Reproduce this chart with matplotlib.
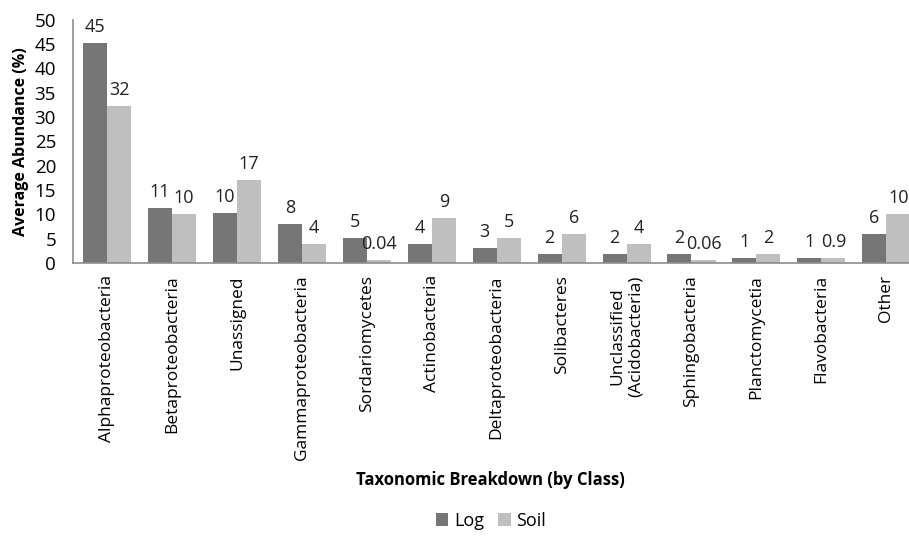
import numpy as np
import matplotlib.pyplot as plt

plt.rcParams['font.family'] = ['Open Sans', 'DejaVu Sans']

categories = ['Alphaproteobacteria', 'Betaproteobacteria', 'Unassigned',
              'Gammaproteobacteria', 'Sordariomycetes', 'Actinobacteria',
              'Deltaproteobacteria', 'Solibacteres', 'Unclassified\n(Acidobacteria)',
              'Sphingobacteria', 'Planctomycetia', 'Flavobacteria', 'Other']
log_vals = [45.3, 11.3, 10.2, 8.0, 5.1, 3.9, 3.1, 1.9, 1.9, 1.9, 1.0, 1.0, 6.0]
soil_vals = [32.2, 10.1, 17.1, 3.9, 0.5, 9.3, 5.1, 6.0, 3.9, 0.5, 1.9, 1.0, 10.1]
log_labels = ['45', '11', '10', '8', '5', '4', '3', '2', '2', '2', '1', '1', '6']
soil_labels = ['32', '10', '17', '4', '0.04', '9', '5', '6', '4', '0.06', '2', '0.9', '10']

fig = plt.figure(figsize=(9.09, 5.51), dpi=100)
ax = fig.add_axes([0.080, 0.523, 0.920, 0.441])

x = np.arange(len(categories))
w = 0.37
b1 = ax.bar(x - w / 2, log_vals, w, color='#767676', label='Log')
b2 = ax.bar(x + w / 2, soil_vals, w, color='#bfbfbf', label='Soil')

for bars, labs in ((b1, log_labels), (b2, soil_labels)):
    for r, t in zip(bars, labs):
        ax.annotate(t, (r.get_x() + r.get_width() / 2, r.get_height()),
                    xytext=(0, 5), textcoords='offset points',
                    ha='center', va='bottom', fontsize=13, color='#222222')

ax.set_xlim(-0.53, 12.35)
ax.set_ylim(0, 50)
ax.set_yticks(range(0, 51, 5))
ax.set_xticks(x)
ax.set_xticklabels(categories, rotation=90, fontsize=12.5, va='top')
ax.tick_params(axis='x', length=0, pad=9)
ax.tick_params(axis='y', length=0, labelsize=13.5, pad=12)
for s in ('top', 'right'):
    ax.spines[s].set_visible(False)
for s in ('left', 'bottom'):
    ax.spines[s].set_color('#8c8c8c')
    ax.spines[s].set_linewidth(1.2)

ax.set_ylabel('Average Abundance (%)', fontsize=11.5, fontweight='bold', labelpad=4)
fig.text(0.54, 0.128, 'Taxonomic Breakdown (by Class)', ha='center', va='center',
         fontsize=12, fontweight='bold')
fig.legend(loc='center', bbox_to_anchor=(0.54, 0.055), ncol=2, frameon=False,
           fontsize=13, handlelength=0.7, handleheight=0.7, columnspacing=0.8,
           handletextpad=0.3)

fig.savefig('out.png', dpi=100)
